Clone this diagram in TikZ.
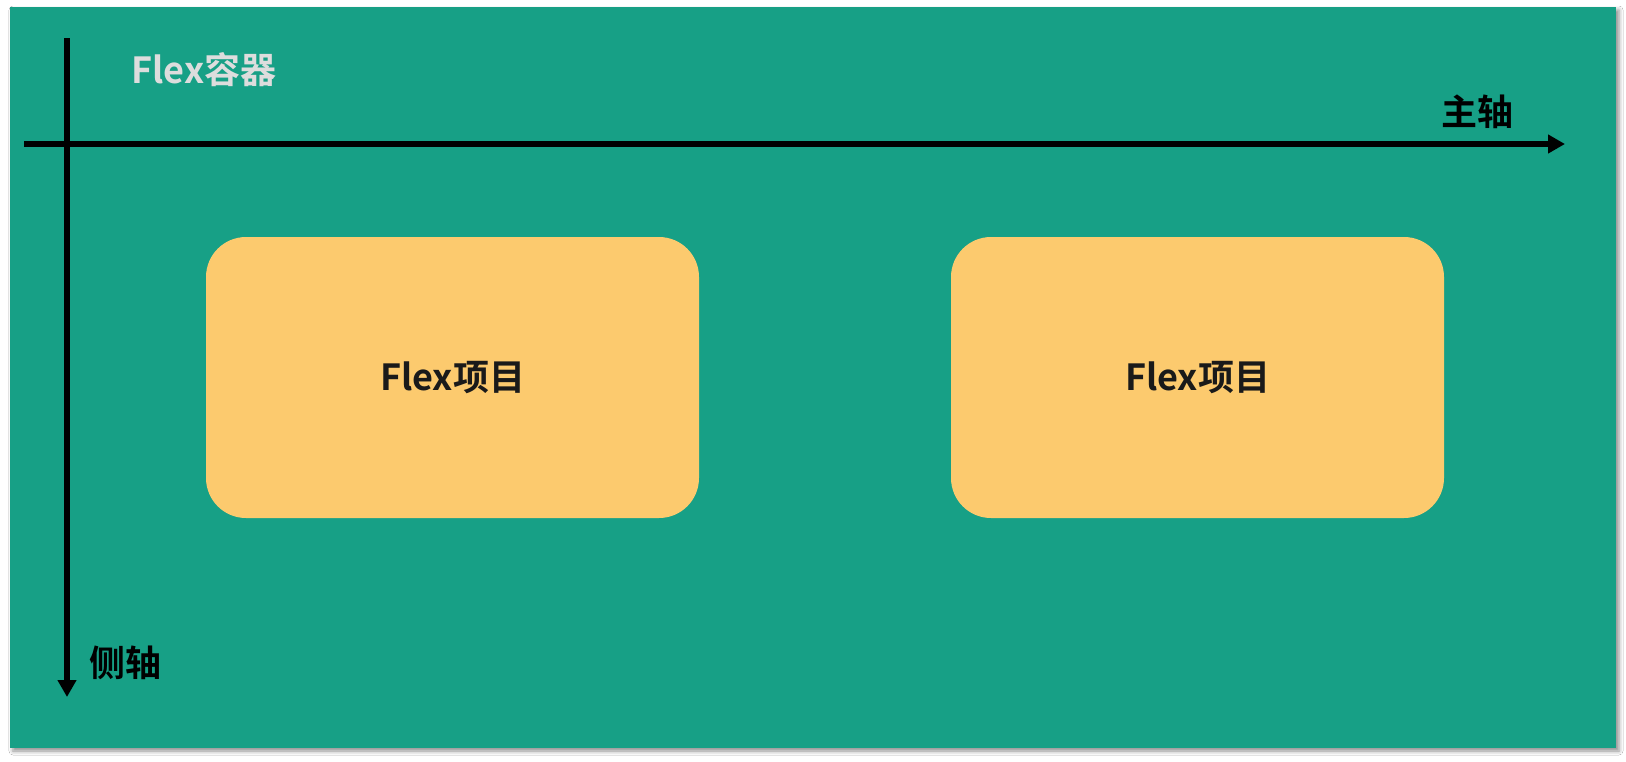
\documentclass[tikz,border=0pt]{standalone}
\usepackage{fontspec}
\setmainfont{Noto Sans CJK SC Bold}
\usetikzlibrary{arrows.meta,shadows.blur}
\definecolor{boxgreen}{RGB}{23,160,134}
\definecolor{itemyellow}{RGB}{252,202,110}
\definecolor{labelgray}{RGB}{221,221,221}
\definecolor{itemtext}{RGB}{26,26,26}
\begin{document}
\begin{tikzpicture}[x=1pt, y=-1pt,
  item/.style={rounded corners=40pt, fill=itemyellow, minimum width=493pt, minimum height=281pt, text=itemtext, font=\fontsize{36}{40}\selectfont},
  axis/.style={line width=6pt, -{Triangle[length=17pt,width=18pt]}},
  axislabel/.style={inner sep=0pt, font=\fontsize{36}{40}\selectfont}]
\useasboundingbox (0,0) rectangle (1626,761);
\fill[white] (0,0) rectangle (1626,761);
% container
\node[fill=boxgreen, minimum width=1606pt, minimum height=741pt, inner sep=0pt,
  blur shadow={shadow xshift=3pt, shadow yshift=-3pt, shadow blur radius=4pt, shadow opacity=45}] (box) at (813,377.5){};
\node[inner sep=0pt, text=labelgray, font=\fontsize{36}{40}\selectfont] (title) at (204,70){Flex容器};
% axes
\coordinate (mainstart) at (24,144);
\coordinate (mainend) at (1565,144);
\coordinate (crossstart) at (67,38);
\coordinate (crossend) at (67,697);
\draw[axis](mainstart) -- (mainend);
\draw[axis](crossstart) -- (crossend);
\node[axislabel] (mainlabel) at (1477,112){主轴};
\node[axislabel] (crosslabel) at (125,663){侧轴};
% items
\node[item] (item1) at (452.5,377.5){Flex项目};
\node[item] (item2) at (1197.5,377.5){Flex项目};
\end{tikzpicture}
\end{document}
